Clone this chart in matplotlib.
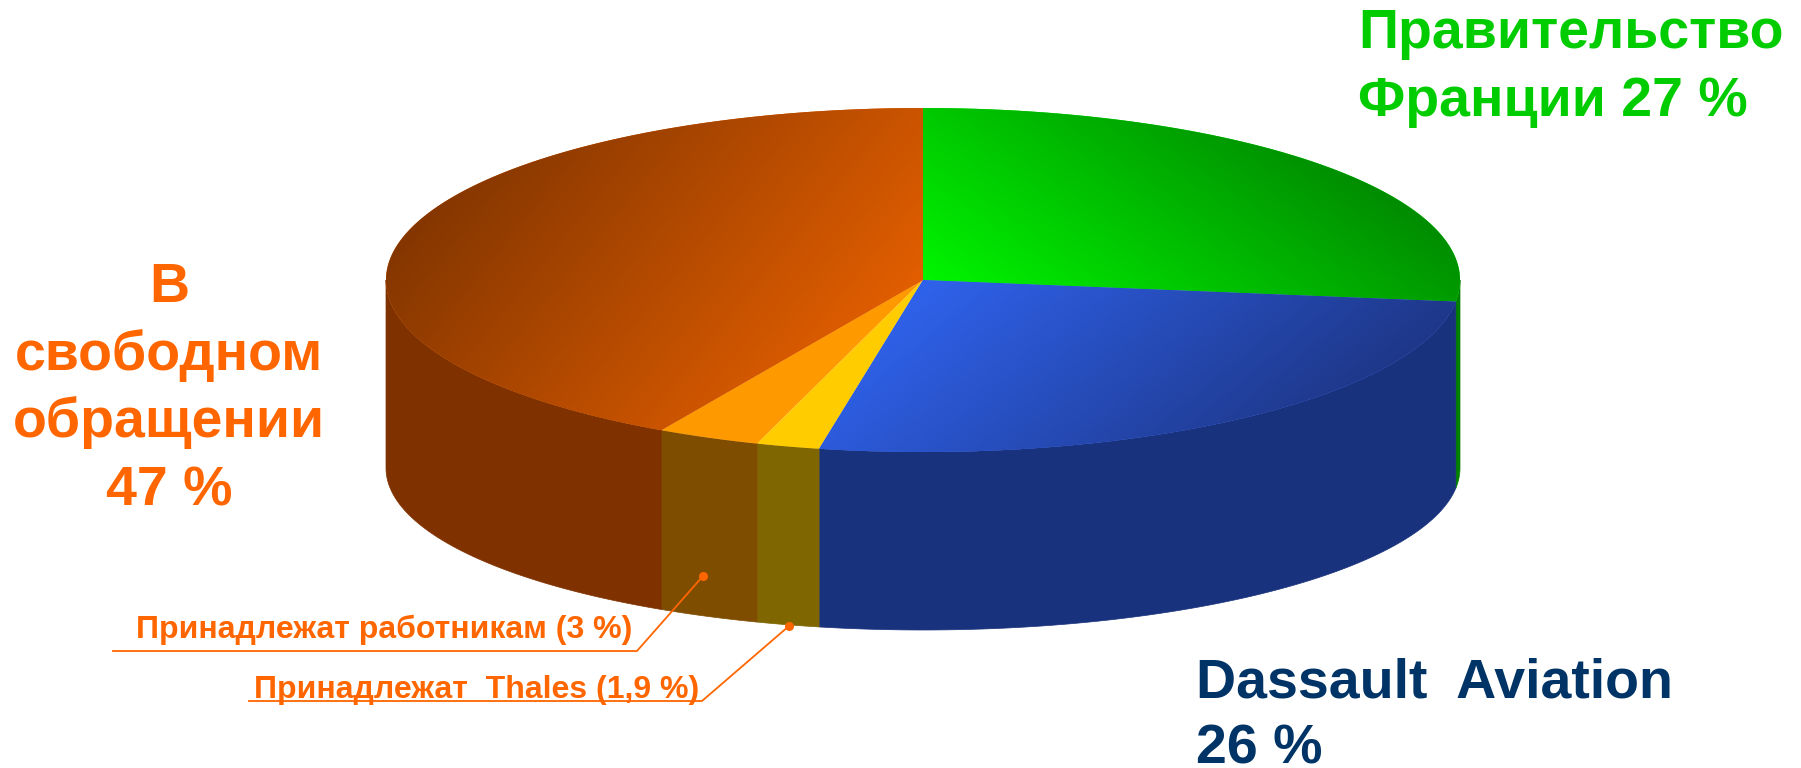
import numpy as np
from matplotlib import pyplot as plt
from matplotlib.colors import to_rgb

# shares as they are drawn on the pie (the label for the free float says 47)
slice_names = ['government', 'dassault', 'thales', 'employees', 'free_float']
slice_values = [27, 26.1, 1.9, 3.1, 41.9]

top_near = ['#00F500', '#2F62EC', '#FFCC00', '#FF9900', '#E25E00']
top_far = ['#008C00', '#1E3788', '#FFCC00', '#FF9900', '#843600']
side_colors = ['#007F00', '#19327D', '#7F6600', '#7F4D00', '#7F3200']
grad_dirs = [(0.57, -0.82), (0.64, 0.77), (1, 0), (1, 0), (-0.777, -0.63)]

ORANGE = '#FF6600'
GREEN = '#00CC00'
NAVY = '#003366'

WIDTH, HEIGHT = 1801, 768
CX, CY = 923, 280
RX = 537
RY_TOP = 172
CY_BOTTOM = 468
RY_BOTTOM = 162


def rim(t, cy, ry):
    rad = np.radians(t)
    return CX + RX * np.cos(rad), cy - ry * np.sin(rad)


def draw_side(ax, t1, t2, color):
    # only the front half of the rim can be seen
    t1, t2 = max(t1, -180), min(t2, 0)
    if t1 >= t2:
        return
    t = np.linspace(t1, t2, 120)
    xt, yt = rim(t, CY, RY_TOP)
    xb, yb = rim(t[::-1], CY_BOTTOM, RY_BOTTOM)
    ax.fill(np.r_[xt, xb], np.r_[yt, yb], color=color, lw=0.5)


def draw_top(ax, t1, t2, near, far, direction):
    t = np.linspace(t1, t2, 240)
    xt, yt = rim(t, CY, RY_TOP)
    xs, ys = np.r_[CX, xt], np.r_[CY, yt]
    patch = ax.fill(xs, ys, color=near, lw=0)[0]
    if near == far:
        return
    xx, yy = np.meshgrid(np.arange(xs.min(), xs.max() + 1),
                         np.arange(ys.min(), ys.max() + 1))
    proj = (xx - CX) * direction[0] + (yy - CY) * direction[1]
    ramp = np.clip(proj / ((xs - CX) * direction[0] + (ys - CY) * direction[1]).max(), 0, 1)
    c0, c1 = np.array(to_rgb(near)), np.array(to_rgb(far))
    img = c0 + (c1 - c0) * ramp[..., None]
    im = ax.imshow(img, extent=(xs.min(), xs.max(), ys.max(), ys.min()),
                   aspect='auto', interpolation='bilinear', zorder=patch.get_zorder() + 0.1)
    im.set_clip_path(patch)


def main():
    plt.rcParams['font.family'] = ['Liberation Sans', 'DejaVu Sans']
    fig = plt.figure(figsize=(WIDTH / 100, HEIGHT / 100), dpi=100)
    ax = fig.add_axes([0, 0, 1, 1])

    shares = np.array(slice_values) / sum(slice_values) * 360
    ends = 90 - np.cumsum(shares)
    starts = np.r_[90, ends[:-1]]

    for i in range(len(slice_names)):
        # clockwise from 12 o'clock, so the slice runs from ends[i] up to starts[i]
        draw_side(ax, ends[i], starts[i], side_colors[i])
    for i in range(len(slice_names)):
        draw_top(ax, ends[i], starts[i], top_near[i], top_far[i], grad_dirs[i])

    big = dict(fontsize=40, fontweight='bold', va='baseline')
    ax.text(1358, 48, 'Правительство', color=GREEN, ha='left', **big)
    ax.text(1358, 116, 'Франции 27 %', color=GREEN, ha='left', **big)
    ax.text(1196, 698, 'Dassault  Aviation', color=NAVY, ha='left', **big)
    ax.text(1196, 764, '26 %', color=NAVY, ha='left', **big)
    ax.text(169, 302, 'В', color=ORANGE, ha='center', **big)
    ax.text(169, 370, 'свободном', color=ORANGE, ha='center', **big)
    ax.text(169, 437, 'обращении', color=ORANGE, ha='center', **big)
    ax.text(169, 505, '47 %', color=ORANGE, ha='center', **big)

    small = dict(fontsize=23, fontweight='bold', va='baseline', ha='left', color=ORANGE)
    ax.text(136, 638, 'Принадлежат работникам (3 %)', **small)
    ax.text(254, 698, 'Принадлежат  Thales (1,9 %)', **small)

    ax.plot([113, 637, 703], [651, 651, 576], color=ORANGE, lw=1.3)
    ax.plot([249, 702, 789], [701, 701, 626], color=ORANGE, lw=1.3)
    ax.plot([703, 789], [576, 626], 'o', color=ORANGE, ms=6.5, mew=0)

    ax.set_xlim(0, WIDTH)
    ax.set_ylim(HEIGHT, 0)
    ax.axis('off')
    fig.savefig('out.png', dpi=100, facecolor='white')


if __name__ == "__main__":
    main()
